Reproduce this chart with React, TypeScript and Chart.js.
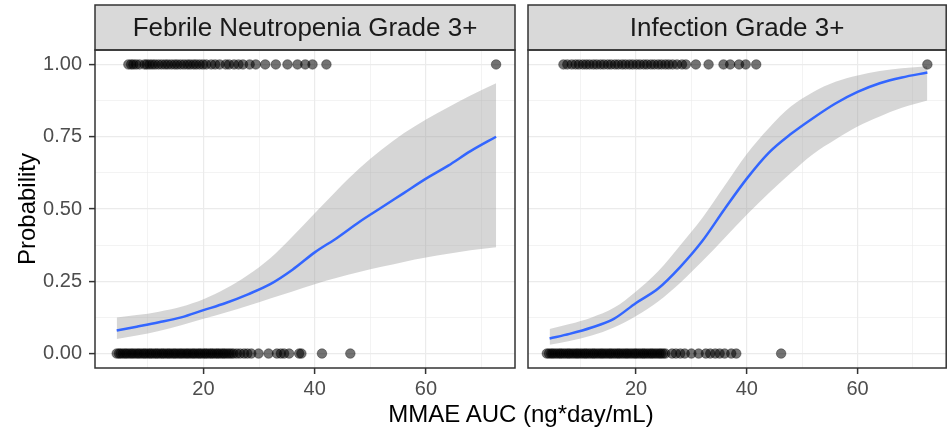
import React, { useEffect, useRef } from 'react';
import { Chart, registerables } from 'chart.js';

Chart.register(...registerables);

// ---------- text ----------
const panelTitles = ['Febrile Neutropenia Grade 3+', 'Infection Grade 3+'];
const xAxisTitle = 'MMAE AUC (ng*day/mL)';
const yAxisTitle = 'Probability';

// ---------- ticks ----------
const xGridValues = [10, 20, 30, 40, 50, 60, 70];
const xMajorTicks = [20, 40, 60];
const xTickLabels = ['20', '40', '60'];
const yGridValues = [0, 0.125, 0.25, 0.375, 0.5, 0.625, 0.75, 0.875, 1];
const yMajorTicks = [0, 0.25, 0.5, 0.75, 1];
const yTickLabels = ['0.00', '0.25', '0.50', '0.75', '1.00'];

// ---------- fitted curves (logistic fit + 95% band) ----------
const fitX = [4.4, 8, 12, 16, 20, 24, 28, 32, 36, 40, 44, 48, 52, 56, 60, 64, 68, 72.6];

const fnFit = [0.080, 0.093, 0.108, 0.125, 0.150, 0.175, 0.205, 0.240, 0.290, 0.350, 0.400, 0.455, 0.505, 0.555, 0.605, 0.650, 0.700, 0.750];
const fnLower = [0.050, 0.062, 0.078, 0.098, 0.120, 0.142, 0.165, 0.190, 0.215, 0.240, 0.262, 0.282, 0.300, 0.317, 0.332, 0.345, 0.357, 0.368];
const fnUpper = [0.125, 0.133, 0.145, 0.162, 0.188, 0.225, 0.272, 0.330, 0.405, 0.485, 0.565, 0.640, 0.705, 0.762, 0.810, 0.852, 0.893, 0.935];

const infFit = [0.052, 0.068, 0.090, 0.120, 0.175, 0.225, 0.300, 0.390, 0.500, 0.605, 0.695, 0.760, 0.815, 0.865, 0.905, 0.935, 0.955, 0.972];
const infLower = [0.030, 0.043, 0.062, 0.090, 0.130, 0.180, 0.245, 0.320, 0.400, 0.480, 0.555, 0.625, 0.690, 0.740, 0.785, 0.820, 0.850, 0.875];
const infUpper = [0.085, 0.102, 0.125, 0.158, 0.215, 0.285, 0.375, 0.470, 0.580, 0.690, 0.780, 0.855, 0.905, 0.940, 0.962, 0.977, 0.987, 0.994];

// ---------- observed outcomes (x = MMAE AUC) ----------
const fnEvents = [6.5, 7.0, 7.4, 7.9, 8.5, 9.4, 9.8, 10.3, 10.8, 11.3, 11.9, 12.5, 13.1, 13.6, 14.2, 14.8, 15.3, 15.9, 16.5, 17.1, 17.6, 18.2, 18.7, 19.3, 19.9, 20.5, 21.4, 22.1, 22.9, 24.0, 24.6, 25.5, 26.3, 27.1, 28.3, 29.4, 31.1, 33.0, 35.1, 36.9, 38.3, 39.6, 42.1, 72.6];
const fnNonEvents = [4.4, 4.8, 5.1, 5.5, 5.9, 6.2, 6.6, 7.0, 7.3, 7.7, 8.1, 8.4, 8.8, 9.2, 9.5, 9.9, 10.3, 10.6, 11.0, 11.4, 11.7, 12.1, 12.5, 12.8, 13.2, 13.6, 13.9, 14.3, 14.7, 15.0, 15.4, 15.8, 16.1, 16.5, 16.9, 17.2, 17.6, 18.0, 18.3, 18.7, 19.1, 19.4, 19.8, 20.2, 20.5, 20.9, 21.3, 21.6, 22.0, 22.4, 22.7, 23.1, 23.5, 23.8, 24.2, 24.6, 25.0, 25.4, 26.0, 26.6, 27.3, 27.9, 28.6, 29.9, 31.7, 33.2, 33.9, 34.5, 35.4, 37.2, 37.6, 41.3, 46.4];
const infEvents = [6.9, 7.6, 8.4, 9.1, 9.7, 10.4, 11.0, 11.6, 12.3, 12.9, 13.6, 14.2, 14.9, 15.5, 16.2, 16.8, 17.5, 18.1, 18.8, 19.4, 20.1, 20.7, 21.4, 22.0, 22.7, 23.3, 24.0, 24.6, 25.3, 25.9, 26.6, 27.4, 28.3, 29.0, 30.8, 33.1, 35.8, 37.0, 38.6, 39.8, 41.7, 72.6];
const infNonEvents = [3.9, 4.3, 4.7, 5.0, 5.4, 5.8, 6.2, 6.5, 6.9, 7.3, 7.7, 8.0, 8.4, 8.8, 9.2, 9.5, 9.9, 10.3, 10.7, 11.0, 11.4, 11.8, 12.2, 12.5, 12.9, 13.3, 13.7, 14.0, 14.4, 14.8, 15.2, 15.5, 15.9, 16.3, 16.7, 17.0, 17.4, 17.8, 18.2, 18.5, 18.9, 19.3, 19.7, 20.0, 20.4, 20.8, 21.2, 21.5, 21.9, 22.3, 22.7, 23.0, 23.4, 23.8, 24.2, 24.5, 24.9, 25.3, 26.5, 27.2, 28.0, 28.8, 30.0, 31.3, 32.6, 33.4, 34.3, 35.1, 36.0, 37.2, 38.1, 46.2];

const FONT = '"Liberation Sans", Arial, sans-serif';

const panelDeco = {
  id: 'panelDeco',
  afterDraw(chart: any, _args: any, opts: any) {
    const { ctx, chartArea: a } = chart;
    ctx.save();
    const stripTop = 5;
    ctx.fillStyle = '#D9D9D9';
    ctx.fillRect(a.left, stripTop, a.right - a.left, a.top - stripTop);
    ctx.strokeStyle = '#333333';
    ctx.lineWidth = 1.5;
    ctx.strokeRect(a.left, stripTop, a.right - a.left, a.top - stripTop);
    ctx.strokeRect(a.left, a.top, a.right - a.left, a.bottom - a.top);
    ctx.fillStyle = '#1A1A1A';
    ctx.font = `26px ${FONT}`;
    ctx.textAlign = 'center';
    ctx.textBaseline = 'middle';
    ctx.fillText(opts.title, (a.left + a.right) / 2, (stripTop + a.top) / 2 + 1);
    ctx.restore();
  },
};

type PanelProps = {
  title: string;
  fit: number[];
  lower: number[];
  upper: number[];
  events: number[];
  nonEvents: number[];
  showY: boolean;
  left: number;
  width: number;
  padRight: number;
  axisWidth: number;
};

function Panel(p: PanelProps) {
  const ref = useRef<HTMLCanvasElement | null>(null);
  useEffect(() => {
    const curve = (vals: number[]) => fitX.map((x, i) => ({ x, y: vals[i] }));
    const pointStyle = {
      showLine: false,
      pointRadius: 4.8,
      pointBackgroundColor: 'rgba(0,0,0,0.55)',
      pointBorderColor: 'rgba(0,0,0,0.35)',
      pointBorderWidth: 1,
    };
    const chart = new Chart(ref.current as HTMLCanvasElement, {
      type: 'line',
      data: {
        datasets: [
          { data: p.events.map((x) => ({ x, y: 1 })), ...pointStyle },
          { data: p.nonEvents.map((x) => ({ x, y: 0 })), ...pointStyle },
          {
            data: curve(p.fit),
            borderColor: '#3366FF',
            borderWidth: 2.5,
            pointRadius: 0,
            cubicInterpolationMode: 'monotone',
            fill: false,
          },
          {
            data: curve(p.lower),
            borderWidth: 0,
            borderColor: 'rgba(0,0,0,0)',
            pointRadius: 0,
            cubicInterpolationMode: 'monotone',
            fill: false,
          },
          {
            data: curve(p.upper),
            borderWidth: 0,
            borderColor: 'rgba(0,0,0,0)',
            backgroundColor: 'rgba(153,153,153,0.4)',
            pointRadius: 0,
            cubicInterpolationMode: 'monotone',
            fill: '-1',
          },
        ] as any,
      },
      options: {
        animation: false,
        responsive: false,
        devicePixelRatio: 1,
        layout: { padding: { top: 50, right: p.padRight, bottom: 0, left: 0 } },
        plugins: {
          legend: { display: false },
          tooltip: { enabled: false },
          panelDeco: { title: p.title },
        } as any,
        scales: {
          x: {
            type: 'linear',
            min: 0.5,
            max: 76,
            afterBuildTicks: (s: any) => {
              s.ticks = xGridValues.map((v) => ({ value: v }));
            },
            afterFit: (s: any) => {
              s.height = 63;
            },
            border: { display: false },
            grid: {
              color: '#EBEBEB',
              lineWidth: (c: any) => (xMajorTicks.includes(c.tick?.value) ? 1.2 : 0.6),
              tickColor: (c: any) => (xMajorTicks.includes(c.tick?.value) ? '#333333' : 'rgba(0,0,0,0)'),
              tickWidth: 1.5,
              tickLength: 6,
            },
            ticks: {
              autoSkip: false,
              maxRotation: 0,
              padding: 3,
              color: '#4D4D4D',
              font: { size: 20, family: FONT },
              callback: (v: any) => {
                const i = xMajorTicks.indexOf(Number(v));
                return i >= 0 ? xTickLabels[i] : '';
              },
            },
          },
          y: {
            type: 'linear',
            min: -0.05,
            max: 1.05,
            afterBuildTicks: (s: any) => {
              s.ticks = yGridValues.map((v) => ({ value: v }));
            },
            afterFit: (s: any) => {
              s.width = p.axisWidth;
            },
            border: { display: false },
            grid: {
              color: '#EBEBEB',
              lineWidth: (c: any) => (yMajorTicks.includes(c.tick?.value) ? 1.2 : 0.6),
              tickColor: (c: any) => (yMajorTicks.includes(c.tick?.value) ? '#333333' : 'rgba(0,0,0,0)'),
              tickWidth: 1.5,
              tickLength: 6,
              drawTicks: p.showY,
            },
            ticks: {
              display: p.showY,
              autoSkip: false,
              padding: 7,
              color: '#4D4D4D',
              font: { size: 20, family: FONT },
              callback: (v: any) => {
                const i = yMajorTicks.indexOf(Number(v));
                return i >= 0 ? yTickLabels[i] : '';
              },
            },
            title: {
              display: p.showY,
              text: yAxisTitle,
              color: '#000000',
              font: { size: 24, family: FONT },
              padding: { top: 14, bottom: 0 },
            },
          },
        },
      } as any,
      plugins: [panelDeco as any],
    });
    return () => chart.destroy();
  }, []);
  return (
    <canvas
      ref={ref}
      width={p.width}
      height={431}
      style={{ position: 'absolute', left: p.left, top: 0, width: p.width, height: 431 }}
    />
  );
}

export default function App() {
  return (
    <div style={{ position: 'absolute', left: 0, top: 0, width: 952, height: 431, background: '#FFFFFF', overflow: 'hidden' }}>
      <Panel
        title={panelTitles[0]}
        fit={fnFit}
        lower={fnLower}
        upper={fnUpper}
        events={fnEvents}
        nonEvents={fnNonEvents}
        showY={true}
        left={0}
        width={521}
        padRight={6}
        axisWidth={95}
      />
      <Panel
        title={panelTitles[1]}
        fit={infFit}
        lower={infLower}
        upper={infUpper}
        events={infEvents}
        nonEvents={infNonEvents}
        showY={false}
        left={521}
        width={431}
        padRight={5}
        axisWidth={7}
      />
      <div
        style={{
          position: 'absolute',
          left: 95,
          width: 852,
          top: 400,
          lineHeight: '28px',
          textAlign: 'center',
          fontFamily: FONT,
          fontSize: 24,
          color: '#000000',
        }}
      >
        {xAxisTitle}
      </div>
    </div>
  );
}
